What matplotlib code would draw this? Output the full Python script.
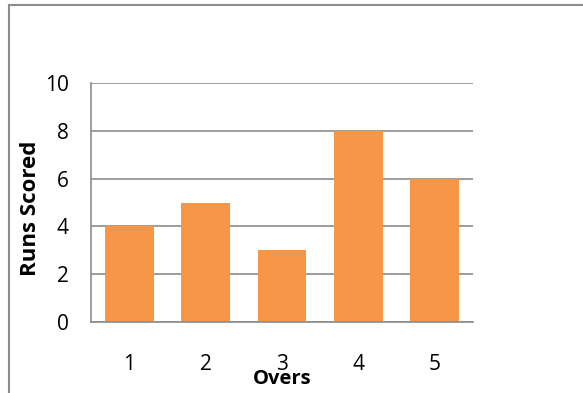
import matplotlib.pyplot as plt
from matplotlib.lines import Line2D

# runs per over
overs = ['1', '2', '3', '4', '5']
runs = [4, 5, 3, 8, 6]
y_ticks = [0, 2, 4, 6, 8, 10]

W, H = 583, 393
fig = plt.figure(figsize=(W / 100, H / 100), dpi=100)
plt.rcParams['font.family'] = ['Open Sans', 'DejaVu Sans']

# plot area in pixels: left 91, right 473, top 83, bottom 322
ax = fig.add_axes([91 / W, 1 - 322 / H, (473 - 91) / W, (322 - 83) / H])

x = range(len(overs))
ax.bar(x, runs, width=0.64, color='#F79646', zorder=2)
ax.set_xlim(-0.5, len(overs) - 0.5)
ax.set_ylim(0, 10)
ax.set_yticks(y_ticks)
ax.set_xticks(list(x))
ax.set_xticklabels(overs)
ax.grid(axis='y', color='#8c8c8c', linewidth=1.2, zorder=1)
ax.tick_params(axis='both', length=0, labelsize=15, colors='black')
ax.tick_params(axis='x', pad=23)
ax.tick_params(axis='y', pad=16)

for side in ['top', 'right']:
    ax.spines[side].set_visible(False)
ax.spines['left'].set_color('#8c8c8c')
ax.spines['bottom'].set_color('#8c8c8c')
ax.spines['left'].set_linewidth(1.2)
ax.spines['bottom'].set_linewidth(1.2)

fig.text(282 / W, 1 - 379 / H, 'Overs', ha='center', va='center',
         fontsize=14.5, fontweight='bold')
fig.text(31 / W, 1 - 208 / H, 'Runs Scored', ha='center', va='center',
         rotation=90, fontsize=16, fontweight='bold')

# outer chart frame (top and left edges)
fig.add_artist(Line2D([9 / W, 1], [1 - 5 / H, 1 - 5 / H], color='#8c8c8c', linewidth=1.5))
fig.add_artist(Line2D([9 / W, 9 / W], [0, 1 - 5 / H], color='#8c8c8c', linewidth=1.5))

fig.savefig('out.png', dpi=100)
